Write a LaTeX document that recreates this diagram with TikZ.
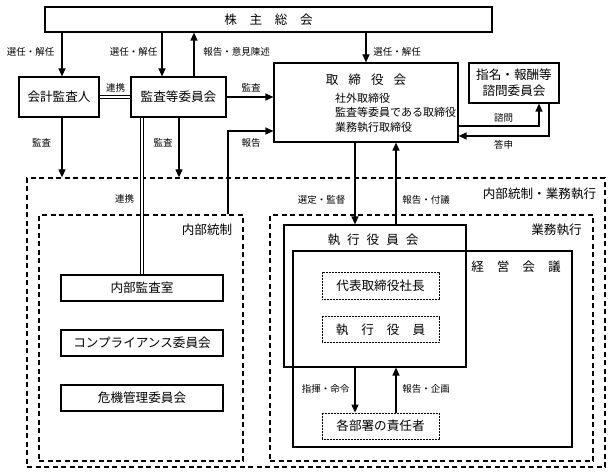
\documentclass[tikz,border=0pt]{standalone}
\usepackage{fontspec}
\setmainfont{Noto Sans CJK JP}
\usetikzlibrary{arrows.meta}
\tikzset{
  box/.style={draw, line width=1.2pt, inner sep=0pt, font=\fontsize{12.6}{14}\selectfont},
  dbox/.style={draw, line width=0.9pt, dash pattern=on 0.9pt off 0.6pt, inner sep=0pt, font=\fontsize{12.6}{14}\selectfont},
  dashbox/.style={draw, line width=1.3pt, dash pattern=on 5pt off 3.5pt, inner sep=0pt},
  arr/.style={line width=1.2pt, -{Triangle[length=8pt,width=7pt]}},
  ln/.style={line width=1.2pt},
  dbl/.style={double, line width=0.9pt, double distance=1.6pt},
  lbl/.style={inner sep=0pt, font=\fontsize{9.5}{11}\selectfont},
  hd/.style={inner sep=0pt, font=\fontsize{12.6}{14}\selectfont}
}
\begin{document}
\begin{tikzpicture}[x=1pt,y=-1pt]
\useasboundingbox (0,0) rectangle (613,476);
% containers
\node[dashbox, minimum width=578pt, minimum height=289pt] (outer) at (316,322.5) {};
\node[dashbox, minimum width=204pt, minimum height=246pt] (lft) at (141,338) {};
\node[dashbox, minimum width=323pt, minimum height=246pt] (rgt) at (431.5,338) {};
\node[hd] (louter) at (539.5,194) {内部統制・業務執行};
\node[hd] (llft) at (207,230) {内部統制};
\node[hd] (lrgt) at (556.5,230) {業務執行};
% top boxes
\node[box, minimum width=447pt, minimum height=25pt] (top) at (268.5,19.5) {株　主　総　会};
\node[box, minimum width=80pt, minimum height=40pt] (kaikei) at (59,97) {会計監査人};
\node[box, minimum width=95pt, minimum height=40pt] (kansa) at (178.5,97) {監査等委員会};
\node[box, minimum width=184pt, minimum height=79pt] (tori) at (366,102.5) {};
\node[hd] (toriT) at (366,80) {取\hspace{10pt}締\hspace{10pt}役\hspace{10pt}会};
\node[inner sep=0pt, anchor=west, align=left, font=\fontsize{11}{14.5}\selectfont] (toriS) at (335,112.5) {社外取締役\\監査等委員である取締役\\業務執行取締役};
\node[box, minimum width=90pt, minimum height=40pt, align=center, font=\fontsize{12.6}{16}\selectfont] (shimei) at (514,83) {指名・報酬等\\諮問委員会};
% internal control boxes
\node[box, minimum width=162pt, minimum height=26pt] (naibu) at (142,288) {内部監査室};
\node[box, minimum width=162pt, minimum height=26pt] (comp) at (142,343) {コンプライアンス委員会};
\node[box, minimum width=162pt, minimum height=26pt] (kiki) at (142,398) {危機管理委員会};
% execution boxes
\node[box, minimum width=182pt, minimum height=142pt] (shikko) at (375,296) {};
\node[hd] (shikkoT) at (373,240) {執\hspace{7pt}行\hspace{7pt}役\hspace{7pt}員\hspace{7pt}会};
\node[box, minimum width=279pt, minimum height=196pt] (keiei) at (432.5,349) {};
\node[hd] (keieiT) at (516,267) {経\hspace{13pt}営\hspace{13pt}会\hspace{13pt}議};
\node[dbox, minimum width=117pt, minimum height=27pt] (daihyo) at (380.5,285.5) {代表取締役社長};
\node[dbox, minimum width=117pt, minimum height=26pt] (yakuin) at (380.5,329.5) {執\hspace{13pt}行\hspace{13pt}役\hspace{13pt}員};
\node[dbox, minimum width=117pt, minimum height=26pt] (bucho) at (380.5,426) {各部署の責任者};
% connectors from top
\draw[arr] (top.south -| 62,0) -- (kaikei.north -| 62,0);
\draw[arr] (top.south -| 162,0) -- (kansa.north -| 162,0);
\draw[arr] (kansa.north -| 194,0) -- (top.south -| 194,0);
\draw[arr] (top.south -| 366,0) -- (tori.north -| 366,0);
\node[lbl] (l1) at (30.5,52) {選任・解任};
\node[lbl] (l2) at (133.5,52) {選任・解任};
\node[lbl] (l3) at (236.5,52) {報告・意見陳述};
\node[lbl] (l4) at (397,52) {選任・解任};
% middle
\draw[dbl] (kaikei.east) -- (kansa.west);
\node[lbl] (l5) at (115.5,88) {連携};
\draw[arr] (kansa.east) -- (tori.west |- kansa.east);
\node[lbl] (l6) at (251,88) {監査};
\draw[arr] (lft.north -| 228,0) |- (tori.west |- 0,131);
\node[lbl] (l7) at (251,143) {報告};
\draw[arr] (kaikei.south -| 62,0) -- (outer.north -| 62,0);
\node[lbl] (l8) at (41.5,143) {監査};
\draw[arr] (kansa.south -| 179,0) -- (outer.north -| 179,0);
\node[lbl] (l9) at (163,143) {監査};
\draw[dbl] (kansa.south -| 142,0) -- (naibu.north -| 142,0);
\node[lbl] (l10) at (124.5,199) {連携};
% advisory committee
\draw[arr] (tori.east |- 0,126) -| (shimei.south -| 539,0);
\draw[arr] (shimei.south -| 549,0) |- (tori.east |- 0,136);
\node[lbl] (l11) at (503.5,118) {諮問};
\node[lbl] (l12) at (503.5,145) {答申};
% board to execution
\draw[arr] (tori.south -| 355,0) -- (shikko.north -| 355,0);
\draw[arr] (shikko.north -| 396,0) -- (tori.south -| 396,0);
\node[lbl] (l13) at (321.5,200) {選定・監督};
\node[lbl] (l14) at (426,200) {報告・付議};
% execution to departments
\draw[arr] (shikko.south -| 355,0) -- (bucho.north -| 355,0);
\draw[arr] (bucho.north -| 396,0) -- (shikko.south -| 396,0);
\node[lbl] (l15) at (325.5,389) {指揮・命令};
\node[lbl] (l16) at (426,389) {報告・企画};
\end{tikzpicture}
\end{document}
